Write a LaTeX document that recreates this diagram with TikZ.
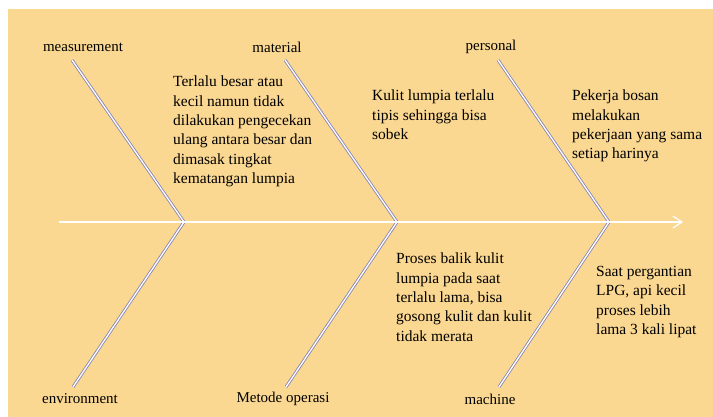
\documentclass[tikz,border=0pt]{standalone}
\usepackage{fontspec}
\setmainfont{Liberation Serif}
\usetikzlibrary{arrows.meta}
\definecolor{bg}{HTML}{FBD891}
\definecolor{bonec}{HTML}{8484B8}
\begin{document}
\begin{tikzpicture}[x=1pt,y=-1pt,
  bone/.style={line width=3pt,bonec},
  boneinner/.style={line width=1.3pt,white},
  lab/.style={font=\fontsize{15}{17}\selectfont,inner sep=0pt},
  txt/.style={font=\fontsize{15.5}{19.3}\selectfont,align=left,anchor=north west,inner sep=0pt}]
\useasboundingbox (0,0) rectangle (713,417);
\fill[white] (0,0) rectangle (713,417);
\fill[bg] (8,9) rectangle (713,417);
% coordinates
\coordinate (s0) at (59,222);
\coordinate (s1) at (683,222);
\coordinate (v1) at (184,222);
\coordinate (v2) at (397,222);
\coordinate (v3) at (609,222);
\coordinate (t1) at (72,60);
\coordinate (t2) at (285,60);
\coordinate (t3) at (498,60);
\coordinate (b1) at (73,387);
\coordinate (b2) at (286,387);
\coordinate (b3) at (499,387);
% bones
\foreach \a/\b in {t1/v1,t2/v2,t3/v3,v1/b1,v2/b2,v3/b3}{
  \draw[bone] (\a) -- (\b);
  \draw[boneinner] (\a) -- (\b);
}
% spine
\draw[white,line width=2pt,-{Straight Barb[length=9pt,width=12pt,line width=1.2pt]}] (s0) -- (s1);
% labels
\node[lab] (l1) at (83,47) {measurement};
\node[lab] (l2) at (277,47) {material};
\node[lab] (l3) at (491,47) {personal};
\node[lab] (l4) at (80,399) {environment};
\node[lab] (l5) at (283,399) {Metode operasi};
\node[lab] (l6) at (490,399) {machine};
% texts
\node[txt] (x1) at (173,76) {Terlalu besar atau\\kecil namun tidak\\dilakukan pengecekan\\ulang antara besar dan\\dimasak tingkat\\kematangan lumpia};
\node[txt] (x2) at (372,90) {Kulit lumpia terlalu\\tipis sehingga bisa\\sobek};
\node[txt] (x3) at (572,90) {Pekerja bosan\\melakukan\\pekerjaan yang sama\\setiap harinya};
\node[txt] (x4) at (396,253) {Proses balik kulit\\lumpia pada saat\\terlalu lama, bisa\\gosong kulit dan kulit\\tidak merata};
\node[txt] (x5) at (596,266) {Saat pergantian\\LPG, api kecil\\proses lebih\\lama 3 kali lipat};
\end{tikzpicture}
\end{document}
